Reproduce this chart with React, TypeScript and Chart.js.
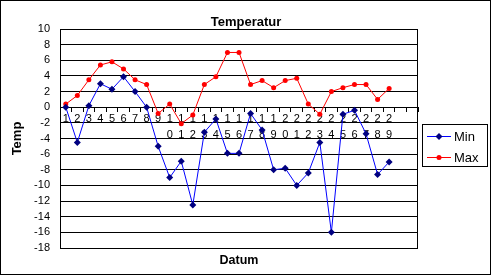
import React, { useEffect, useRef } from "react";
import { Chart, registerables } from "chart.js";

Chart.register(...registerables);

const dayLabels: string[] = [
  "1", "2", "3", "4", "5", "6", "7", "8", "9", "10",
  "11", "12", "13", "14", "15", "16", "17", "18", "19", "20",
  "21", "22", "23", "24", "25", "26", "27", "28", "29", "", "",
];

const minTemps: (number | null)[] = [
  0, -4.5, 0.2, 3.0, 2.3, 3.9, 2.0, 0, -5.0, -9.0,
  -6.9, -12.5, -3.2, -1.5, -5.9, -5.9, -0.8, -2.9, -8.0, -7.8,
  -10.0, -8.4, -4.5, -16.0, -0.9, -0.4, -3.4, -8.6, -7.0, null, null,
];

const maxTemps: (number | null)[] = [
  0.4, 1.5, 3.5, 5.4, 5.8, 4.9, 3.5, 2.9, -0.8, 0.4,
  -2.1, -1.0, 2.9, 3.9, 7.0, 7.0, 2.9, 3.4, 2.5, 3.4,
  3.7, 0.4, -0.9, 2.0, 2.5, 2.9, 2.9, 1.0, 2.4, null, null,
];

const chartTitle = "Temperatur";
const yTitle = "Temp";
const xTitle = "Datum";
const seriesNames = ["Min", "Max"];

const FONT = 'Arial, "Liberation Sans", sans-serif';

const decorPlugin = {
  id: "decor",
  afterDraw(chart: any) {
    const { ctx, chartArea } = chart;
    ctx.save();
    ctx.strokeStyle = "#000";
    ctx.lineWidth = 1;
    // outer border
    ctx.strokeRect(0.5, 0.5, 490, 274);
    // plot border
    ctx.strokeRect(
      Math.round(chartArea.left) + 0.5,
      Math.round(chartArea.top) + 0.5,
      Math.round(chartArea.right - chartArea.left) - 1,
      Math.round(chartArea.bottom - chartArea.top)
    );
    // titles
    ctx.fillStyle = "#000";
    ctx.textAlign = "center";
    ctx.textBaseline = "alphabetic";
    ctx.font = `bold 13px ${FONT}`;
    ctx.fillText(chartTitle, 246, 25.5);
    ctx.font = `bold 12.5px ${FONT}`;
    ctx.fillText(xTitle, (chartArea.left + chartArea.right) / 2, 264);
    ctx.save();
    ctx.translate(17.5, (chartArea.top + chartArea.bottom) / 2);
    ctx.rotate(-Math.PI / 2);
    ctx.textBaseline = "middle";
    ctx.font = `bold 13px ${FONT}`;
    ctx.fillText(yTitle, 0, 0);
    ctx.restore();
    // legend
    ctx.strokeRect(422.5, 124.5, 65, 42);
    const rows = [136.5, 157.5];
    chart.data.datasets.forEach((ds: any, i: number) => {
      const y = rows[i];
      ctx.strokeStyle = ds.borderColor;
      ctx.beginPath();
      ctx.moveTo(427, y);
      ctx.lineTo(451, y);
      ctx.stroke();
      ctx.fillStyle = ds.pointBackgroundColor;
      ctx.beginPath();
      if (ds.pointStyle === "rectRot") {
        const r = ds.pointRadius;
        ctx.moveTo(439 - r, y);
        ctx.lineTo(439, y - r);
        ctx.lineTo(439 + r, y);
        ctx.lineTo(439, y + r);
        ctx.closePath();
      } else {
        ctx.arc(439, y, ds.pointRadius, 0, Math.PI * 2);
      }
      ctx.fill();
      ctx.fillStyle = "#000";
      ctx.textAlign = "left";
      ctx.textBaseline = "middle";
      ctx.font = `13px ${FONT}`;
      ctx.fillText(ds.label, 454, y + 0.5);
    });
    ctx.restore();
  },
};

export default function App() {
  const ref = useRef<HTMLCanvasElement | null>(null);
  useEffect(() => {
    if (!ref.current) return;
    const chart = new Chart(ref.current, {
      type: "line",
      data: {
        labels: dayLabels,
        datasets: [
          {
            label: seriesNames[0],
            data: minTemps,
            borderColor: "#0000FF",
            borderWidth: 1,
            pointStyle: "rectRot",
            pointRadius: 3.5,
            pointBackgroundColor: "#000080",
            pointBorderColor: "#000080",
            pointBorderWidth: 0,
            tension: 0,
          },
          {
            label: seriesNames[1],
            data: maxTemps,
            borderColor: "#FF0000",
            borderWidth: 1,
            pointStyle: "circle",
            pointRadius: 2.5,
            pointBackgroundColor: "#FF0000",
            pointBorderColor: "#FF0000",
            pointBorderWidth: 0,
            tension: 0,
          },
        ] as any,
      },
      options: {
        animation: false,
        responsive: false,
        events: [],
        layout: { padding: { left: 0, top: 29, right: 75, bottom: 29 } },
        plugins: {
          legend: { display: false },
          title: { display: false },
          tooltip: { enabled: false },
        },
        scales: {
          x: {
            type: "category",
            position: { y: 0 } as any,
            offset: true,
            grid: {
              offset: true,
              drawOnChartArea: false,
              drawTicks: true,
              tickLength: 4,
              color: "#000",
            },
            border: { display: true, color: "#000" },
            ticks: {
              autoSkip: false,
              maxRotation: 0,
              minRotation: 0,
              padding: 0,
              color: "#000",
              font: { family: FONT, size: 11, lineHeight: "16px" } as any,
              callback: (_v: any, i: number) => {
                const s = dayLabels[i];
                return s.length > 1 ? s.split("") : s;
              },
            },
          },
          y: {
            min: -18,
            max: 10,
            afterFit: (scale: any) => {
              scale.width = 60;
            },
            grid: { color: "#000", drawTicks: false },
            border: { display: true, color: "#000" },
            ticks: {
              stepSize: 2,
              autoSkip: false,
              padding: 10,
              color: "#000",
              font: { family: FONT, size: 11 },
            },
          },
        },
      },
      plugins: [decorPlugin],
    });
    return () => chart.destroy();
  }, []);
  return (
    <div style={{ position: "fixed", left: 0, top: 0 }}>
      <canvas ref={ref} width={493} height={277} style={{ display: "block" }} />
    </div>
  );
}
